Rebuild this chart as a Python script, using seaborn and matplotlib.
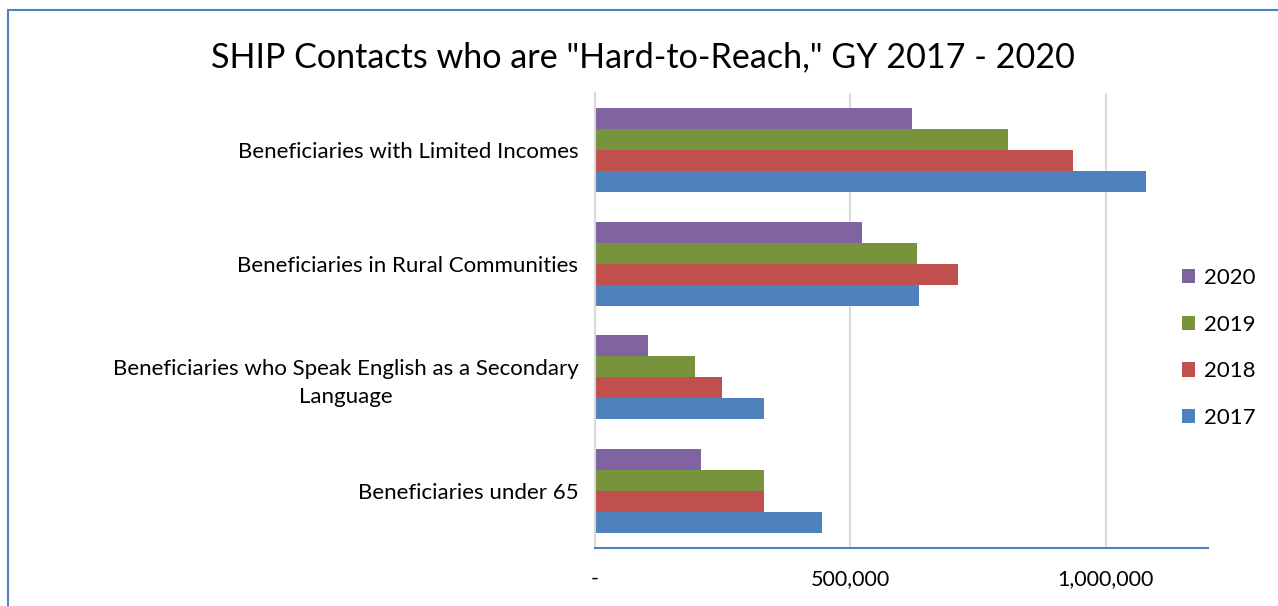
import matplotlib
matplotlib.use("Agg")
import matplotlib.pyplot as plt
from matplotlib.patches import Rectangle
from matplotlib.ticker import FuncFormatter
import seaborn as sns
import pandas as pd

categories = [
    "Beneficiaries with Limited Incomes",
    "Beneficiaries in Rural Communities",
    "Beneficiaries who Speak English as a Secondary\nLanguage",
    "Beneficiaries under 65",
]
years = ["2020", "2019", "2018", "2017"]
contacts_2020 = [620000, 523000, 104000, 207000]
contacts_2019 = [808000, 631000, 195000, 330000]
contacts_2018 = [936000, 710000, 249000, 330000]
contacts_2017 = [1078000, 635000, 331000, 444000]
year_colors = ["#8064A2", "#77933C", "#C0504D", "#4F81BD"]

series = {
    "2020": contacts_2020,
    "2019": contacts_2019,
    "2018": contacts_2018,
    "2017": contacts_2017,
}
rows = []
for yr in years:
    for cat, val in zip(categories, series[yr]):
        rows.append({"Category": cat, "Year": yr, "Contacts": val})
df = pd.DataFrame(rows)

sns.set_theme(style="white")
plt.rcParams["font.family"] = ["Lato", "DejaVu Sans"]
plt.rcParams["text.color"] = "black"

fig = plt.figure(figsize=(12.78, 6.06), dpi=100)
ax = fig.add_axes([595 / 1278, 1 - 548 / 606, (1208 - 595) / 1278, (548 - 93) / 606])

sns.barplot(
    data=df, y="Category", x="Contacts", hue="Year",
    hue_order=years, order=categories, palette=year_colors, saturation=1,
    orient="h", width=0.74, ax=ax, errorbar=None, linewidth=0,
)

ax.set_xlim(0, 1200000)
ax.set_xticks([0, 500000, 1000000])
ax.xaxis.set_major_formatter(FuncFormatter(lambda v, p: "-" if v == 0 else f"{int(v):,}"))
ax.grid(axis="x", color="#D9D9D9", linewidth=1.5)
ax.grid(axis="y", visible=False)
ax.set_axisbelow(True)
ax.set_xlabel("")
ax.set_ylabel("")
for side in ["top", "right"]:
    ax.spines[side].set_visible(False)
ax.spines["left"].set_color("#D9D9D9")
ax.spines["left"].set_linewidth(1.5)
ax.spines["bottom"].set_color("#4F81BD")
ax.spines["bottom"].set_linewidth(1.5)
ax.tick_params(axis="x", length=0, pad=15, labelsize=15.5, colors="black")
ax.tick_params(axis="y", length=0, pad=12, labelsize=16, colors="black")
for lbl in ax.get_yticklabels():
    lbl.set_multialignment("center")
    lbl.set_linespacing(1.5)

handles, labels = ax.get_legend_handles_labels()
ax.legend(
    handles, labels, loc="center left",
    bbox_to_anchor=(1162 / 1278, 1 - 348 / 606), bbox_transform=fig.transFigure,
    frameon=False, fontsize=16, handlelength=0.6, handleheight=0.6,
    handletextpad=0.4, labelspacing=1.2,
)

fig.text(0.503, 1 - 57 / 606, "SHIP Contacts who are \"Hard-to-Reach,\" GY 2017 - 2020",
         ha="center", va="center", fontsize=24.6, color="black")

fig.patches.append(Rectangle((8 / 1278, -0.1), 1.2, 1 - 10 / 606 + 0.1,
                             transform=fig.transFigure, fill=False,
                             edgecolor="#4F81BD", linewidth=1.5))

fig.savefig("out.png", dpi=100, facecolor="white")
